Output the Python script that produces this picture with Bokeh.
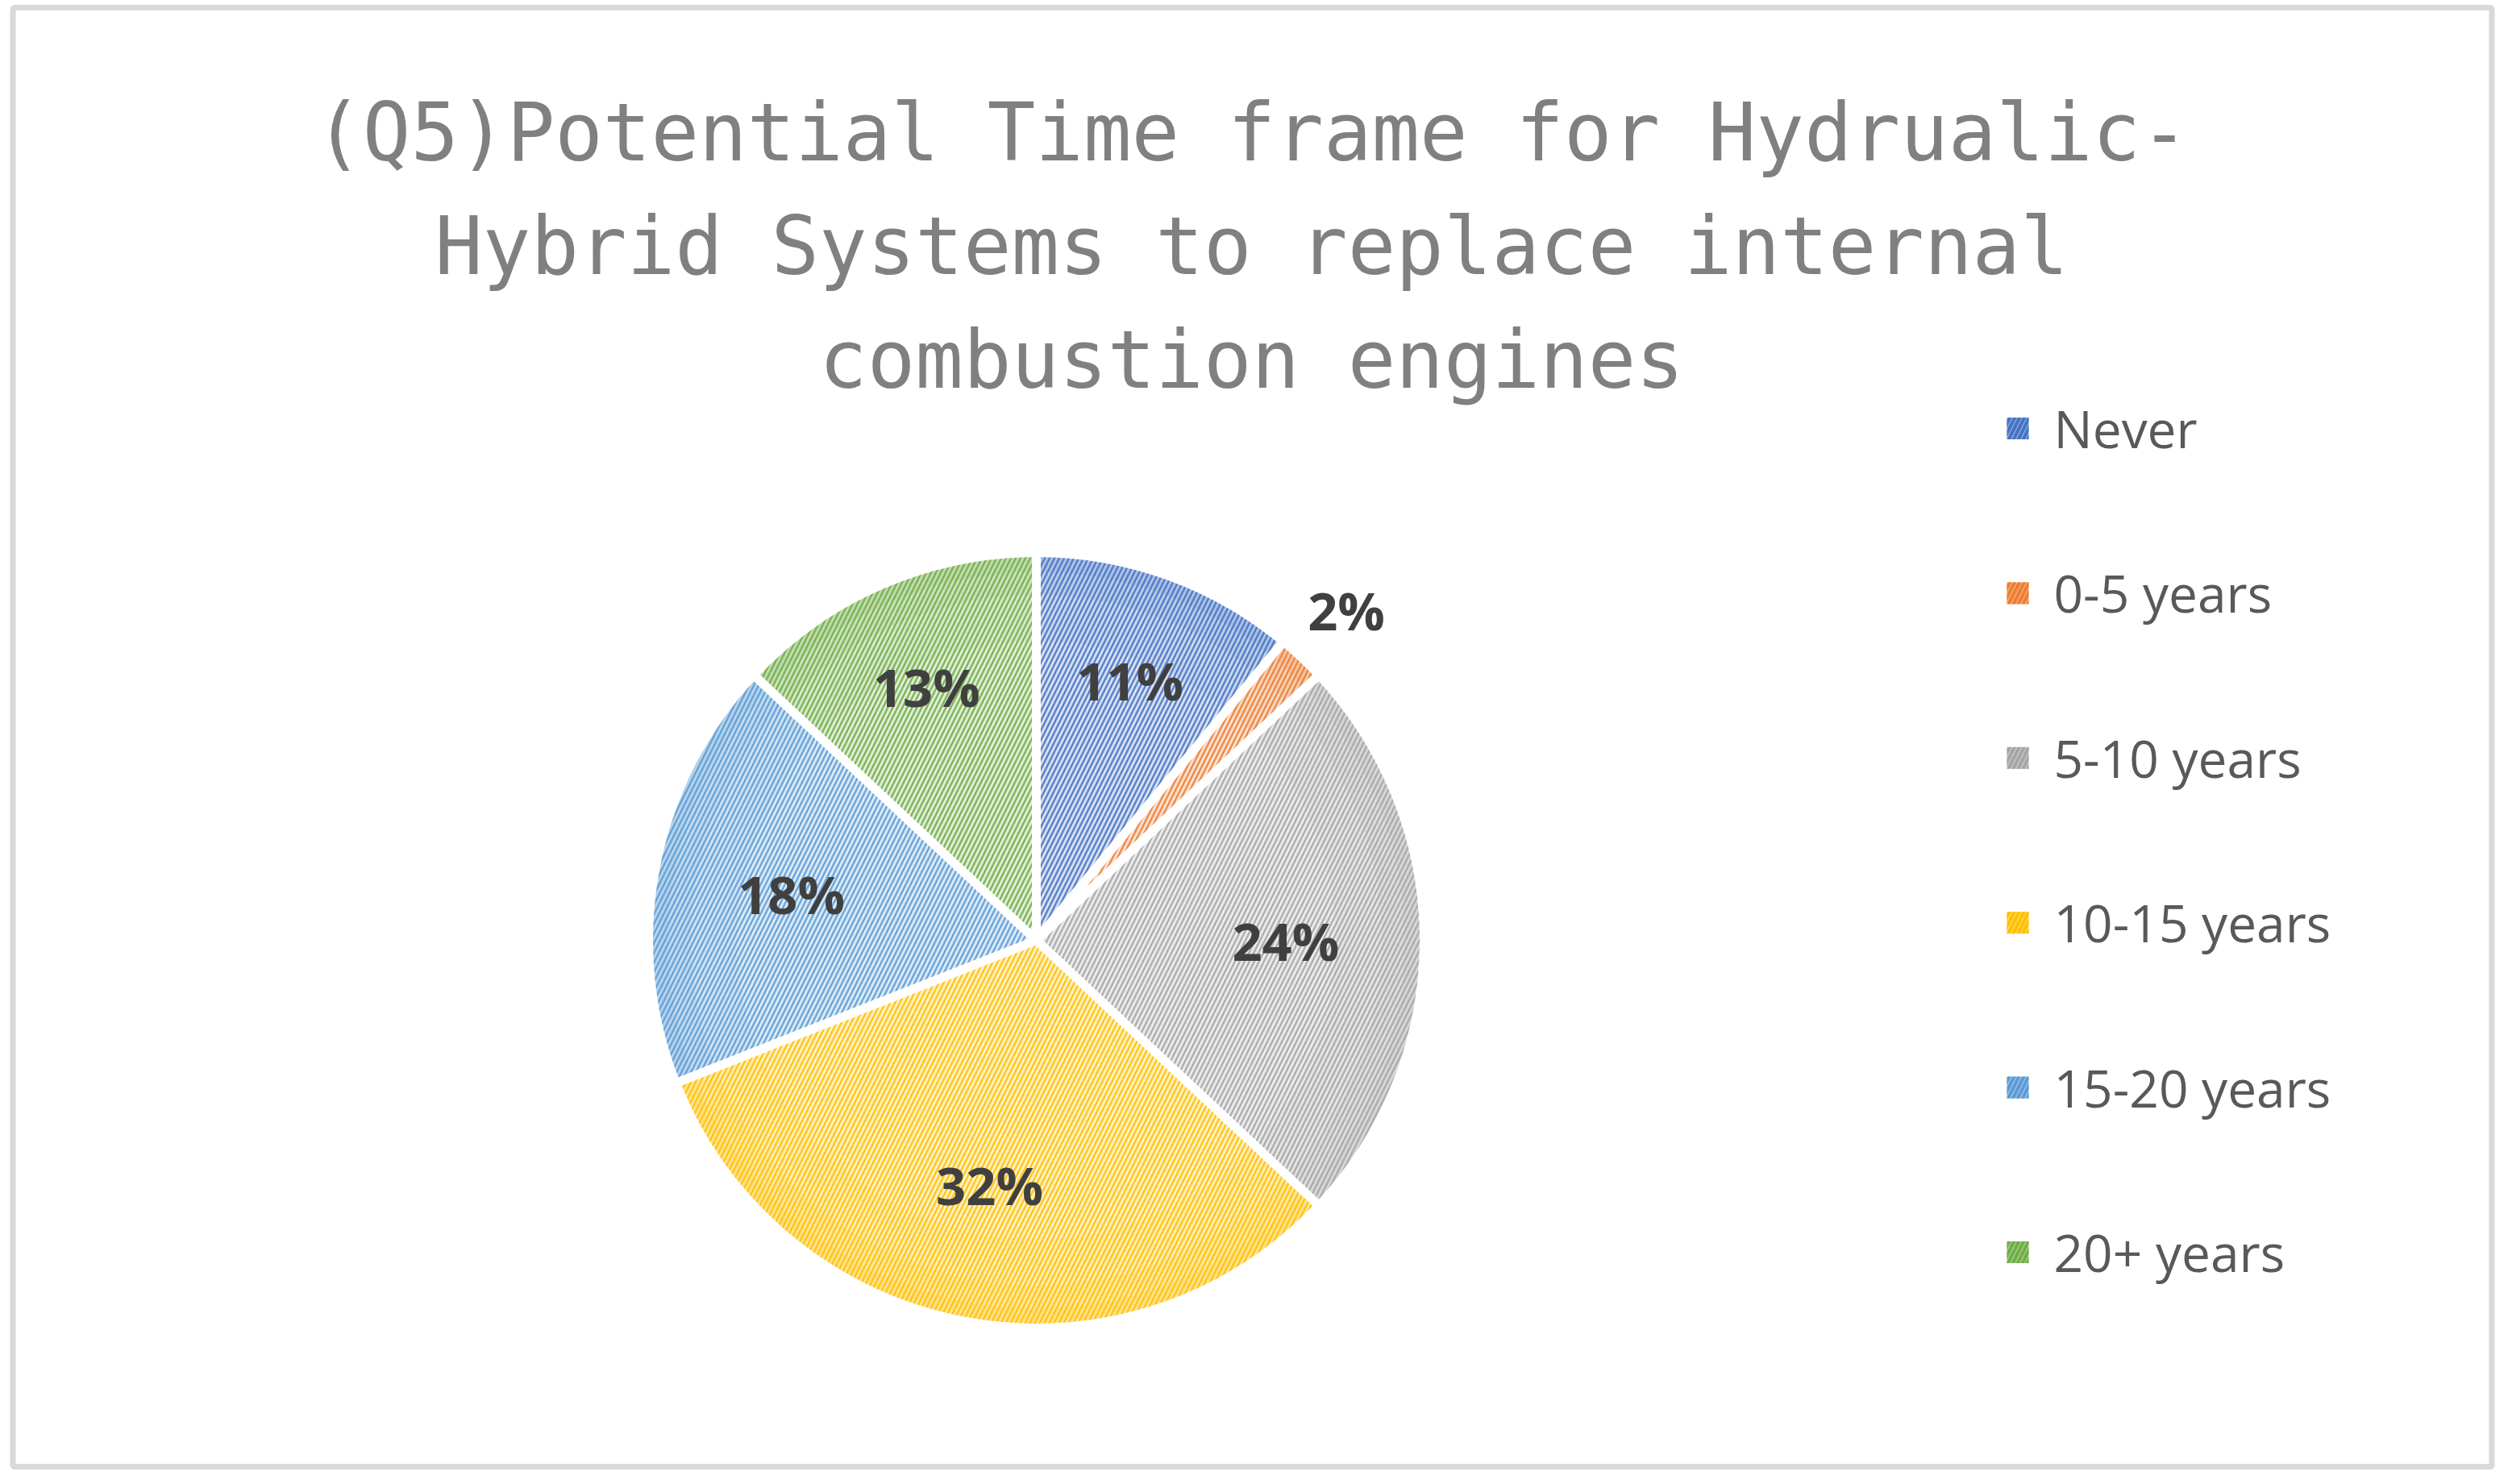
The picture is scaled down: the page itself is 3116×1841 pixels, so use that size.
import math
from bokeh.plotting import figure
from bokeh.models import Range1d, ColumnDataSource
from bokeh.core.properties import value
from bokeh.embed import file_html
from bokeh.resources import INLINE

# ---- data ----
categories = ["Never", "0-5 years", "5-10 years", "10-15 years", "15-20 years", "20+ years"]
percents = [11, 2, 24, 32, 18, 13]
colors = ["#4472C4", "#ED7D31", "#A5A5A5", "#FFC000", "#5B9BD5", "#70AD47"]
title_lines = ["(Q5)Potential Time frame for Hydrualic-",
               "Hybrid Systems to replace internal",
               "combustion engines"]

# ---- canvas: data units == reference pixels (y flipped) ----
W, H = 3116, 1841
PW, PH = 3100, 1825
p = figure(width=PW, height=PH, x_range=Range1d(8, 8 + PW), y_range=Range1d(H - 8 - PH, H - 8),
           x_axis_type=None, y_axis_type=None, toolbar_location=None,
           output_backend="svg", min_border=0)
p.outline_line_color = None
p.background_fill_color = "white"
p.border_fill_color = "white"

def Y(y):
    return H - y

# chart-area border
p.rect(x=[(23.5 + 3098.5) / 2], y=[Y((17 + 1827) / 2)], width=3098.5 - 23.5, height=1827 - 17,
       fill_color=None, line_color="#D9D9D9", line_width=7)

# title
for i, line in enumerate(title_lines):
    p.text(x=[1560], y=[Y(172 + i * 141)], text=[line], text_align="center",
           text_baseline="alphabetic", text_font=value("DejaVu Sans Mono"),
           text_font_size="99px", text_color="#808080")

# pie
cx, cy, r = 1293, Y(1174), 476
total = float(sum(percents))
starts, ends, mids = [], [], []
acc = 0.0
for v in percents:
    a0 = math.pi / 2 - 2 * math.pi * acc / total
    acc += v
    a1 = math.pi / 2 - 2 * math.pi * acc / total
    starts.append(a0)
    ends.append(a1)
    mids.append((a0 + a1) / 2)

src = ColumnDataSource(dict(start=starts, end=ends, color=colors, cat=categories))
# base tint
p.wedge(x=cx, y=cy, radius=r + 5, start_angle="start", end_angle="end", direction="clock",
        source=src, fill_color="color", fill_alpha=0.22, line_color=None)
# edge shading (radial gradient approximation)
for ri, al in [(0.78, 0.08), (0.90, 0.10), (0.96, 0.12)]:
    p.annular_wedge(x=cx, y=cy, inner_radius=r * ri, outer_radius=r + 5, start_angle="start",
                    end_angle="end", direction="clock", source=src, fill_color="color",
                    fill_alpha=al, line_color=None)
# hatch + white separators
p.wedge(x=cx, y=cy, radius=r + 5, start_angle="start", end_angle="end", direction="clock",
        source=src, fill_color=None, hatch_pattern="/", hatch_color="color", hatch_scale=12,
        hatch_weight=2.5, hatch_alpha=0.85, line_color="white", line_width=11)

# data labels
lx, ly, lt = [], [], []
for v, m in zip(percents, mids):
    frac = v / total
    if frac < 0.05:
        rr = 1.18 * r
    elif frac < 0.15:
        rr = 0.72 * r
    else:
        rr = 0.65 * r
    lx.append(cx + rr * math.cos(m))
    ly.append(cy + rr * math.sin(m))
    lt.append(f"{v}%")
p.text(x=lx, y=ly, text=lt, text_align="center", text_baseline="middle",
       text_font=value("Open Sans"), text_font_style="bold", text_font_size="65px",
       text_color="#404040")

# legend
lg_y = [Y(539 + i * 204.4) for i in range(len(categories))]
lsrc = ColumnDataSource(dict(x=[2510.5] * len(categories), y=lg_y, color=colors, cat=categories,
                             tx=[2555] * len(categories)))
p.rect(x="x", y="y", width=27, height=27, source=lsrc, fill_color="color", fill_alpha=0.6,
       line_color=None)
p.rect(x="x", y="y", width=27, height=27, source=lsrc, fill_color=None, hatch_pattern="/",
       hatch_color="color", hatch_scale=12, hatch_weight=4, line_color=None)
p.text(x="tx", y="y", text="cat", source=lsrc, text_align="left", text_baseline="middle",
       text_font=value("Open Sans"), text_font_size="64px", text_color="#595959")

open("out.html", "w").write(file_html(p, INLINE))
